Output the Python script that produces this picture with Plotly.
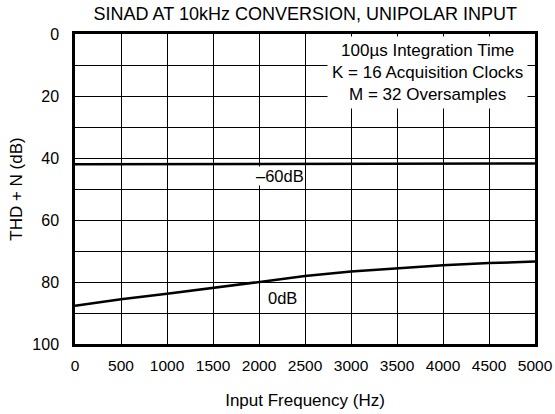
import plotly.graph_objects as go

freq = [0, 500, 1000, 1500, 2000, 2500, 3000, 3500, 4000, 4500, 5000]
thdn_0db = [87.7, 85.6, 83.8, 81.9, 79.9, 78.1, 76.6, 75.5, 74.6, 73.9, 73.4]
thdn_m60db = [42.0, 42.0, 42.0, 42.0, 41.9, 41.9, 41.9, 41.8, 41.8, 41.8, 41.8]

x_ticks = [0, 500, 1000, 1500, 2000, 2500, 3000, 3500, 4000, 4500, 5000]
y_ticks = [0, 20, 40, 60, 80, 100]

FONT = "Liberation Sans, Arial, sans-serif"

fig = go.Figure()
fig.add_trace(go.Scatter(x=freq, y=thdn_m60db, mode="lines",
                         line=dict(color="black", width=2.5), showlegend=False))
fig.add_trace(go.Scatter(x=freq, y=thdn_0db, mode="lines",
                         line=dict(color="black", width=2.5), showlegend=False))

fig.add_annotation(x=2230, y=45.8, text="–60dB", showarrow=False,
                   font=dict(size=16.5, color="black"), bgcolor="white", borderpad=0)
fig.add_annotation(x=2260, y=85.2, text="0dB", showarrow=False,
                   font=dict(size=16.5, color="black"), bgcolor="white", borderpad=0)
fig.add_annotation(x=3832, y=12.4, text="100µs Integration Time<br>K = 16 Acquisition Clocks<br>M = 32 Oversamples",
                   showarrow=False, align="center",
                   font=dict(size=17, color="black"), bgcolor="white", borderpad=4)

fig.update_layout(
    width=555, height=414,
    margin=dict(l=75, r=20, t=34, b=70, autoexpand=False),
    paper_bgcolor="white", plot_bgcolor="white",
    font=dict(family=FONT, size=16, color="black"),
    title=dict(text="SINAD AT 10kHz CONVERSION, UNIPOLAR INPUT", x=0.55, xanchor="center",
               y=1 - 14 / 414, yanchor="middle", font=dict(size=18, color="black")),
)
fig.update_xaxes(range=[0, 5000], tickvals=x_ticks, ticktext=[str(v) for v in x_ticks],
                 tickfont=dict(size=15.5), ticklabeloverflow="allow",
                 showgrid=True, gridcolor="black", gridwidth=1,
                 showline=True, linecolor="black", linewidth=2.5, mirror=True,
                 ticks="", zeroline=False, automargin=False, ticklabelstandoff=6,
                 title=dict(text="Input Frequency (Hz)", standoff=21, font=dict(size=17)))
fig.update_yaxes(range=[100, 0], tickvals=y_ticks, ticktext=[str(v) for v in y_ticks],
                 tickfont=dict(size=16), ticklabeloverflow="allow",
                 showgrid=True, gridcolor="black", gridwidth=1,
                 minor=dict(dtick=10, tick0=0, showgrid=True, gridcolor="black", gridwidth=1),
                 showline=True, linecolor="black", linewidth=2.5, mirror=True,
                 ticks="", zeroline=False, automargin=False, ticklabelstandoff=10,
                 title=dict(text="THD + N (dB)", standoff=6, font=dict(size=17)))

fig.write_html("out.html", config={"displayModeBar": False},
               post_script="document.body.style.margin='0px';")
